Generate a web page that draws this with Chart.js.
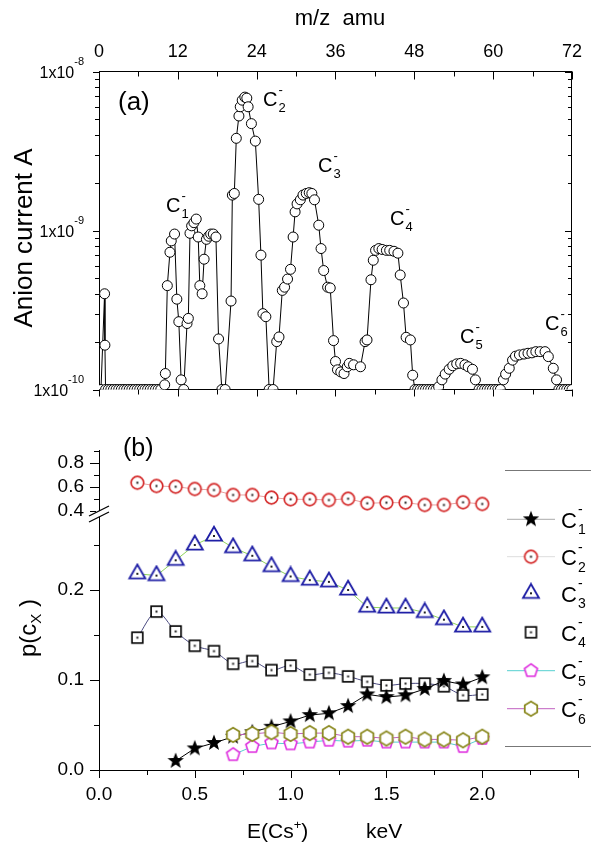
<!DOCTYPE html>
<html>
<head>
<meta charset="utf-8">
<script src="https://cdn.jsdelivr.net/npm/chart.js@4.4.1/dist/chart.umd.min.js"></script>
<style>
  html, body { margin: 0; padding: 0; background: #fff; }
  #wrap { position: relative; width: 591px; height: 853px; overflow: hidden; }
  #chartA { position: absolute; left: 0; top: 0; }
  #chartB { position: absolute; left: 0; top: 420px; }
</style>
</head>
<body>
<div id="wrap">
  <canvas id="chartA" width="591" height="420"></canvas>
  <canvas id="chartB" width="591" height="433"></canvas>
</div>
<script>
const FONT = '"Liberation Sans", Arial, Helvetica, sans-serif';

// ---- panel (a): anion mass spectrum ----
const massTicks = [0, 12, 24, 36, 48, 60, 72];
const currentDecades = [-10, -9, -8];

const mzValues = [
  0.3, 0.85, 0.9, 1.0, 1.4, 1.8, 2.2, 2.6, 3.0, 3.4, 3.8, 4.2, 4.6, 5.0,
  5.4, 5.8, 6.2, 6.6, 7.0, 7.4, 7.8, 8.2, 8.6, 9.0, 9.4,
  10.0, 10.1, 10.4, 10.8, 11.0, 11.5, 11.85, 12.15, 12.5, 12.9, 13.4, 13.6,
  13.85, 14.1, 14.45, 14.8, 15.1, 15.35, 15.7, 16.0, 16.35, 16.7, 17.0, 17.4, 17.8, 18.2, 18.7, 19.2,
  20.1, 20.3, 20.6, 20.9, 21.3, 21.5, 21.8, 22.2, 22.5, 22.7, 23.2, 23.8,
  24.3, 24.65, 24.95, 25.4, 25.9, 26.5, 27.05, 27.4, 27.9, 28.25, 28.7, 29.15,
  29.55, 29.85, 30.15, 30.65, 31.05, 31.55, 32.0, 32.4, 32.8, 33.45, 33.8, 34.2,
  34.8, 35.2, 35.7, 36.0, 36.3, 36.8, 37.3, 37.8, 38.1, 38.75, 39.8, 40.5, 40.8,
  41.4, 41.75, 42.1, 42.6, 43.1, 43.75, 44.25, 44.9, 45.5, 45.85, 46.35, 46.75, 47.4, 47.75,
  48.1, 48.5, 48.9, 49.3, 49.7, 50.1, 50.5, 50.9, 51.3,
  51.7, 52.2, 52.7, 53.3, 53.85, 54.45, 55.05, 55.7, 56.2, 56.85, 57.3,
  57.85, 58.3, 58.7, 59.1, 59.5, 59.9, 60.3, 60.7, 61.1,
  61.55, 61.9, 62.45, 62.95, 63.4, 64.0, 64.7, 65.3, 65.9, 66.5, 67.15, 67.9,
  68.4, 69.15, 69.65, 70.0, 70.4, 70.8, 71.2, 71.6, 72.0
];
const anionCurrent = [
  1e-10, 4.0e-10, 1.9e-10, 1e-10, 1e-10, 1e-10, 1e-10, 1e-10, 1e-10, 1e-10, 1e-10, 1e-10, 1e-10, 1e-10,
  1e-10, 1e-10, 1e-10, 1e-10, 1e-10, 1e-10, 1e-10, 1e-10, 1e-10, 1e-10, 1e-10,
  1.07e-10, 1.26e-10, 4.5e-10, 7.3e-10, 8.6e-10, 9.5e-10, 3.7e-10, 2.67e-10, 1.15e-10, 1e-10, 2.6e-10, 2.8e-10,
  9.6e-10, 1.07e-9, 1.12e-9, 1.18e-9, 9.1e-10, 4.5e-10, 4.0e-10, 6.6e-10, 8.8e-10, 9.2e-10, 9.5e-10, 9.5e-10, 9.1e-10, 2.08e-10, 1e-10, 1e-10,
  3.6e-10, 1.67e-9, 1.71e-9, 3.8e-9, 5.25e-9, 6.0e-9, 6.6e-9, 6.9e-9, 6.8e-9, 6.0e-9, 4.7e-9, 3.65e-9,
  1.57e-9, 7.0e-10, 3.0e-10, 2.87e-10, 1e-10, 1e-10, 2.0e-10, 2.14e-10, 4.2e-10, 4.4e-10, 4.95e-10, 5.7e-10,
  9.1e-10, 1.31e-9, 1.47e-9, 1.56e-9, 1.67e-9, 1.71e-9, 1.73e-9, 1.71e-9, 1.56e-9, 1.08e-9, 7.7e-10, 5.6e-10,
  4.4e-10, 4.35e-10, 2.03e-10, 1.5e-10, 1.33e-10, 1.29e-10, 1.26e-10, 1.39e-10, 1.46e-10, 1.43e-10, 1.39e-10, 2.0e-10, 2.05e-10,
  4.9e-10, 6.5e-10, 7.5e-10, 7.7e-10, 7.6e-10, 7.5e-10, 7.5e-10, 7.4e-10, 7.2e-10, 5.25e-10, 3.5e-10, 2.13e-10, 2.05e-10, 1.23e-10,
  1e-10, 1e-10, 1e-10, 1e-10, 1e-10, 1e-10, 1e-10, 1e-10, 1e-10,
  1.04e-10, 1.15e-10, 1.25e-10, 1.34e-10, 1.41e-10, 1.45e-10, 1.46e-10, 1.43e-10, 1.39e-10, 1.34e-10, 1.15e-10,
  1e-10, 1e-10, 1e-10, 1e-10, 1e-10, 1e-10, 1e-10, 1e-10, 1e-10,
  1.15e-10, 1.25e-10, 1.36e-10, 1.53e-10, 1.62e-10, 1.65e-10, 1.67e-10, 1.69e-10, 1.70e-10, 1.73e-10, 1.73e-10, 1.73e-10,
  1.61e-10, 1.36e-10, 1.15e-10, 1e-10, 1e-10, 1e-10, 1e-10, 1e-10, 1e-10
];

// ---- panel (b): cluster fractions vs Cs+ energy ----
const energyKeV = [0.2, 0.3, 0.4, 0.5, 0.6, 0.7, 0.8, 0.9, 1.0, 1.1, 1.2, 1.3, 1.4, 1.5, 1.6, 1.7, 1.8, 1.9, 2.0];
const pC1 = [null, null, 0.010, 0.024, 0.030, 0.037, 0.042, 0.048, 0.054, 0.061, 0.063, 0.071, 0.084, 0.081, 0.083, 0.090, 0.099, 0.095, 0.103];
const pC2 = [0.633, 0.606, 0.600, 0.581, 0.572, 0.531, 0.531, 0.509, 0.495, 0.495, 0.489, 0.500, 0.462, 0.467, 0.467, 0.448, 0.448, 0.470, 0.456];
const pC3 = [0.218, 0.216, 0.233, 0.250, 0.260, 0.247, 0.238, 0.226, 0.215, 0.211, 0.209, 0.200, 0.181, 0.180, 0.180, 0.175, 0.167, 0.159, 0.159];
const pC4 = [0.147, 0.176, 0.154, 0.138, 0.132, 0.118, 0.121, 0.111, 0.116, 0.106, 0.108, 0.104, 0.098, 0.094, 0.096, 0.096, 0.093, 0.083, 0.084];
const pC5 = [null, null, null, null, null, 0.017, 0.026, 0.030, 0.029, 0.031, 0.033, 0.032, 0.033, 0.031, 0.031, 0.031, 0.031, 0.026, 0.035];
const pC6 = [null, null, null, null, null, 0.039, 0.040, 0.042, 0.040, 0.041, 0.041, 0.037, 0.037, 0.035, 0.037, 0.034, 0.034, 0.033, 0.037];
const clusterSizes = [1, 2, 3, 4, 5, 6];

Chart.defaults.font.family = FONT;
Chart.defaults.color = '#000';

// marker pictures for panel (b)
function makeMarker(size, draw) {
  const c = document.createElement('canvas');
  c.width = size; c.height = size;
  const g = c.getContext('2d');
  g.translate(size / 2, size / 2);
  draw(g);
  return c;
}
function polygon(g, n, r, rot) {
  g.beginPath();
  for (let i = 0; i < n; i++) {
    const a = rot + i * 2 * Math.PI / n;
    g.lineTo(r * Math.cos(a), r * Math.sin(a));
  }
  g.closePath();
}
function dot(g) { g.fillStyle = '#222'; g.fillRect(-1, -1, 2, 2); }

const markerC1 = makeMarker(20, g => {
  g.beginPath();
  for (let i = 0; i < 10; i++) {
    const r = i % 2 ? 3.6 : 8.6;
    const a = -Math.PI / 2 + i * Math.PI / 5;
    g.lineTo(r * Math.cos(a), r * Math.sin(a));
  }
  g.closePath();
  g.fillStyle = '#000'; g.fill();
});
const markerC2 = makeMarker(17, g => {
  g.beginPath(); g.arc(0, 0, 6.3, 0, 2 * Math.PI);
  g.fillStyle = '#fff'; g.fill();
  g.lineWidth = 1.7; g.strokeStyle = '#d42a2a'; g.stroke();
  dot(g);
});
const markerC3 = makeMarker(22, g => {
  g.beginPath(); g.moveTo(0, -9.3); g.lineTo(8, 4.7); g.lineTo(-8, 4.7); g.closePath();
  g.fillStyle = '#fff'; g.fill();
  g.lineWidth = 1.8; g.strokeStyle = '#1f1fa6'; g.stroke();
  dot(g);
});
const markerC4 = makeMarker(15, g => {
  g.fillStyle = '#fff'; g.fillRect(-5.4, -5.4, 10.8, 10.8);
  g.lineWidth = 1.6; g.strokeStyle = '#000'; g.strokeRect(-5.4, -5.4, 10.8, 10.8);
  dot(g);
});
const markerC5 = makeMarker(17, g => {
  polygon(g, 5, 6.8, -Math.PI / 2);
  g.fillStyle = '#fff'; g.fill();
  g.lineWidth = 1.6; g.strokeStyle = '#de2ade'; g.stroke();
});
const markerC6 = makeMarker(18, g => {
  polygon(g, 6, 7.2, -Math.PI / 2);
  g.fillStyle = '#fff'; g.fill();
  g.lineWidth = 1.8; g.strokeStyle = '#8c8a22'; g.stroke();
});

function ionLabel(ctx, x, y, n, big, small) {
  ctx.textAlign = 'left';
  ctx.textBaseline = 'alphabetic';
  ctx.font = big + 'px ' + FONT;
  ctx.fillText('C', x, y);
  const w = ctx.measureText('C').width;
  ctx.font = small + 'px ' + FONT;
  ctx.fillText('-', x + w + 1, y - big * 0.62);
  ctx.fillText(String(n), x + w + 1, y + small * 0.45);
}

function tickPath(ctx, x1, y1, x2, y2) {
  ctx.moveTo(x1, y1); ctx.lineTo(x2, y2);
}

const panelAExtras = {
  id: 'panelAExtras',
  afterDraw(chart) {
    const ctx = chart.ctx;
    const { left, right, top, bottom } = chart.chartArea;
    const xs = chart.scales.x, ys = chart.scales.y;
    ctx.save();
    ctx.strokeStyle = '#000';
    ctx.lineWidth = 1;
    ctx.beginPath();
    for (let m = 0; m <= 72; m += 6) {
      const x = Math.round(xs.getPixelForValue(m)) + 0.5;
      const major = massTicks.includes(m);
      tickPath(ctx, x, top, x, top + (major ? 8 : 5));
      tickPath(ctx, x, bottom, x, bottom + (major ? 7 : 5));
    }
    currentDecades.forEach(e => {
      for (let k = 1; k <= 9; k++) {
        if (e === -8 && k > 1) break;
        const y = Math.round(ys.getPixelForValue(k * Math.pow(10, e))) + 0.5;
        tickPath(ctx, left, y, left - (k === 1 ? 6 : 4), y);
        tickPath(ctx, right, y, right - (k === 1 ? 7 : 4), y);
      }
    });
    ctx.stroke();

    ctx.fillStyle = '#000';
    // log axis labels 1x10^n
    currentDecades.forEach(e => {
      const y = ys.getPixelForValue(Math.pow(10, e));
      const sup = String(e);
      ctx.font = '11px ' + FONT;
      const sw = ctx.measureText(sup).width;
      ctx.textAlign = 'left';
      ctx.textBaseline = 'alphabetic';
      ctx.fillText(sup, 84 - sw, y - 7);
      ctx.font = '16px ' + FONT;
      ctx.textAlign = 'right';
      ctx.fillText('1x10', 84 - sw, y + 6);
    });

    // axis titles
    ctx.textAlign = 'center';
    ctx.font = '22px ' + FONT;
    ctx.fillText('m/z  amu', 340, 25);
    ctx.save();
    ctx.translate(32, 238);
    ctx.rotate(-Math.PI / 2);
    ctx.font = '26px ' + FONT;
    ctx.fillText('Anion current A', 0, 0);
    ctx.restore();

    ctx.textAlign = 'left';
    ctx.font = '26px ' + FONT;
    ctx.fillText('(a)', 118, 110);

    ionLabel(ctx, 166, 212, 1, 20, 13);
    ionLabel(ctx, 263, 106, 2, 20, 13);
    ionLabel(ctx, 318, 172, 3, 20, 13);
    ionLabel(ctx, 390, 225, 4, 20, 13);
    ionLabel(ctx, 460, 343, 5, 20, 13);
    ionLabel(ctx, 545, 330, 6, 20, 13);
    ctx.restore();
  }
};

new Chart(document.getElementById('chartA'), {
  type: 'line',
  data: {
    datasets: [{
      data: mzValues.map((m, i) => ({ x: m, y: anionCurrent[i] })),
      borderColor: '#000',
      borderWidth: 1,
      pointRadius: 5,
      pointBackgroundColor: '#fff',
      pointBorderColor: '#000',
      pointBorderWidth: 1,
      tension: 0
    }]
  },
  options: {
    responsive: false,
    animation: false,
    events: [],
    layout: { padding: 0 },
    plugins: { legend: { display: false }, tooltip: { enabled: false } },
    scales: {
      x: {
        type: 'linear', position: 'top', min: 0, max: 72,
        ticks: { stepSize: 12, autoSkip: false, maxRotation: 0, padding: 9, font: { size: 18 },
          callback: v => massTicks.includes(v) ? String(v) : '' },
        grid: { drawOnChartArea: false, drawTicks: false },
        border: { color: '#000', width: 1 },
        afterFit: s => { s.height = 71.5; }
      },
      xb: {
        type: 'linear', position: 'bottom', min: 0, max: 72,
        ticks: { display: false },
        grid: { drawOnChartArea: false, drawTicks: false },
        border: { color: '#000', width: 1 },
        afterFit: s => { s.height = 30.5; }
      },
      y: {
        type: 'logarithmic', position: 'left', min: 1e-10, max: 1e-8,
        ticks: { display: false },
        grid: { drawOnChartArea: false, drawTicks: false },
        border: { color: '#000', width: 1 },
        afterFit: s => { s.width = 99; }
      },
      yr: {
        type: 'logarithmic', position: 'right', min: 1e-10, max: 1e-8,
        ticks: { display: false },
        grid: { drawOnChartArea: false, drawTicks: false },
        border: { color: '#000', width: 1 },
        afterFit: s => { s.width = 10; }
      }
    }
  },
  plugins: [panelAExtras]
});

// ---- panel (b) ----
const seriesStyle = [
  { values: pC1, marker: markerC1, line: '#000', legendLine: '#aaa', axis: 'yBot', order: 2 },
  { values: pC2, marker: markerC2, line: '#e8a0a0', legendLine: '#ddd', axis: 'yTop', order: 5 },
  { values: pC3, marker: markerC3, line: '#8fd45a', legendLine: null, axis: 'yBot', order: 4 },
  { values: pC4, marker: markerC4, line: '#4a4a80', legendLine: null, axis: 'yBot', order: 3, tension: 0.3 },
  { values: pC5, marker: markerC5, line: '#55d0d0', legendLine: '#55d0d0', axis: 'yBot', order: 1 },
  { values: pC6, marker: markerC6, line: '#c060c0', legendLine: '#c060c0', axis: 'yBot', order: 0 }
];

const panelBExtras = {
  id: 'panelBExtras',
  afterDraw(chart) {
    const ctx = chart.ctx;
    const area = chart.chartArea;
    const xs = chart.scales.x, yt = chart.scales.yTop, yb = chart.scales.yBot;
    ctx.save();
    ctx.strokeStyle = '#000';
    ctx.lineWidth = 1;
    ctx.beginPath();
    for (let i = 0; i <= 10; i++) {
      const x = Math.round(xs.getPixelForValue(i * 0.25)) + 0.5;
      tickPath(ctx, x, area.bottom, x, area.bottom + (i % 2 === 0 ? 8 : 5));
    }
    for (let i = 0; i <= 5; i++) {
      const v = i * 0.05;
      const y = Math.round(yb.getPixelForValue(v)) + 0.5;
      tickPath(ctx, area.left, y, area.left - (i % 2 === 0 ? 9 : 5), y);
    }
    for (let i = 4; i <= 9; i++) {
      const y = Math.round(yt.getPixelForValue(i / 10)) + 0.5;
      tickPath(ctx, area.left, y, area.left - (i % 2 === 0 ? 9 : 5), y);
    }
    ctx.stroke();

    // axis break
    ctx.fillStyle = '#fff';
    ctx.fillRect(area.left - 3, 91, 6, 6);
    ctx.beginPath();
    tickPath(ctx, 89, 96, 109, 86);
    tickPath(ctx, 89, 102, 109, 92);
    ctx.lineWidth = 1.3;
    ctx.stroke();

    // legend frame
    ctx.strokeStyle = '#777';
    ctx.lineWidth = 1;
    ctx.beginPath();
    tickPath(ctx, 505, 50.5, 591, 50.5);
    tickPath(ctx, 505, 326.5, 591, 326.5);
    ctx.stroke();

    const rows = [99.3, 136.7, 173.3, 212.3, 250.7, 288.7];
    seriesStyle.forEach((s, i) => {
      const cy = rows[i];
      if (s.legendLine) {
        ctx.strokeStyle = s.legendLine;
        ctx.beginPath();
        tickPath(ctx, 507, cy, 555, cy);
        ctx.stroke();
      }
      ctx.drawImage(s.marker, 531 - s.marker.width / 2, cy - s.marker.height / 2);
      ctx.fillStyle = '#000';
      ionLabel(ctx, 561, cy + 8.5, clusterSizes[i], 22, 14);
    });

    // titles
    ctx.fillStyle = '#000';
    ctx.textAlign = 'left';
    ctx.textBaseline = 'alphabetic';
    ctx.font = '25px ' + FONT;
    ctx.fillText('(b)', 123, 36);

    ctx.font = '21px ' + FONT;
    const ex = 247, ey = 418;
    ctx.fillText('E(Cs', ex, ey);
    const w1 = ctx.measureText('E(Cs').width;
    ctx.font = '13px ' + FONT;
    ctx.fillText('+', ex + w1, ey - 9);
    const w2 = ctx.measureText('+').width;
    ctx.font = '21px ' + FONT;
    ctx.fillText(')', ex + w1 + w2, ey);
    ctx.fillText('keV', 366, ey);

    ctx.save();
    ctx.translate(36, 208);
    ctx.rotate(-Math.PI / 2);
    ctx.font = '24px ' + FONT;
    const a = 'p(c', b = 'X', c = ' )';
    const wa = ctx.measureText(a).width, wc = ctx.measureText(c).width;
    ctx.font = '15px ' + FONT;
    const wb = ctx.measureText(b).width;
    let px = -(wa + wb + wc) / 2;
    ctx.font = '24px ' + FONT;
    ctx.fillText(a, px, 0);
    ctx.font = '15px ' + FONT;
    ctx.fillText(b, px + wa, 5);
    ctx.font = '24px ' + FONT;
    ctx.fillText(c, px + wa + wb, 0);
    ctx.restore();
    ctx.restore();
  }
};

const tenths = v => Math.abs(v * 10 - Math.round(v * 10)) < 1e-6;

new Chart(document.getElementById('chartB'), {
  type: 'line',
  data: {
    datasets: seriesStyle.map(s => ({
      data: energyKeV.map((e, i) => ({ x: e, y: s.values[i] })).filter(p => p.y !== null),
      yAxisID: s.axis,
      order: s.order,
      borderColor: s.line,
      borderWidth: 1,
      tension: s.tension || 0,
      pointStyle: s.marker,
      pointRadius: 7
    }))
  },
  options: {
    responsive: false,
    animation: false,
    events: [],
    layout: { padding: { top: 30.7, right: 11, left: 0, bottom: 0 } },
    plugins: { legend: { display: false }, tooltip: { enabled: false } },
    scales: {
      x: {
        type: 'linear', position: 'bottom', min: 0, max: 2.5,
        ticks: { stepSize: 0.5, autoSkip: false, maxRotation: 0, padding: 13, font: { size: 19 },
          callback: v => v < 2.01 ? v.toFixed(1) : '' },
        grid: { drawOnChartArea: false, drawTicks: false },
        border: { color: '#000', width: 1 },
        afterFit: s => { s.height = 83; }
      },
      // stacked scales: the first one listed sits at the bottom
      yBot: {
        type: 'linear', position: 'left', stack: 'p', stackWeight: 251.5,
        min: 0, max: 0.2794,
        ticks: { stepSize: 0.1, includeBounds: false, autoSkip: false, padding: 15, font: { size: 19 },
          callback: v => tenths(v) ? v.toFixed(1) : '' },
        grid: { drawOnChartArea: false, drawTicks: false },
        border: { color: '#000', width: 1 },
        afterFit: s => { s.width = 99; }
      },
      yTop: {
        type: 'linear', position: 'left', stack: 'p', stackWeight: 67.8,
        min: 0.335, max: 0.9,
        ticks: { stepSize: 0.2, includeBounds: false, autoSkip: false, padding: 15, font: { size: 19 },
          callback: v => v.toFixed(1) },
        grid: { drawOnChartArea: false, drawTicks: false },
        border: { color: '#000', width: 1 },
        afterFit: s => { s.width = 99; }
      }
    }
  },
  plugins: [panelBExtras]
});
</script>
</body>
</html>
